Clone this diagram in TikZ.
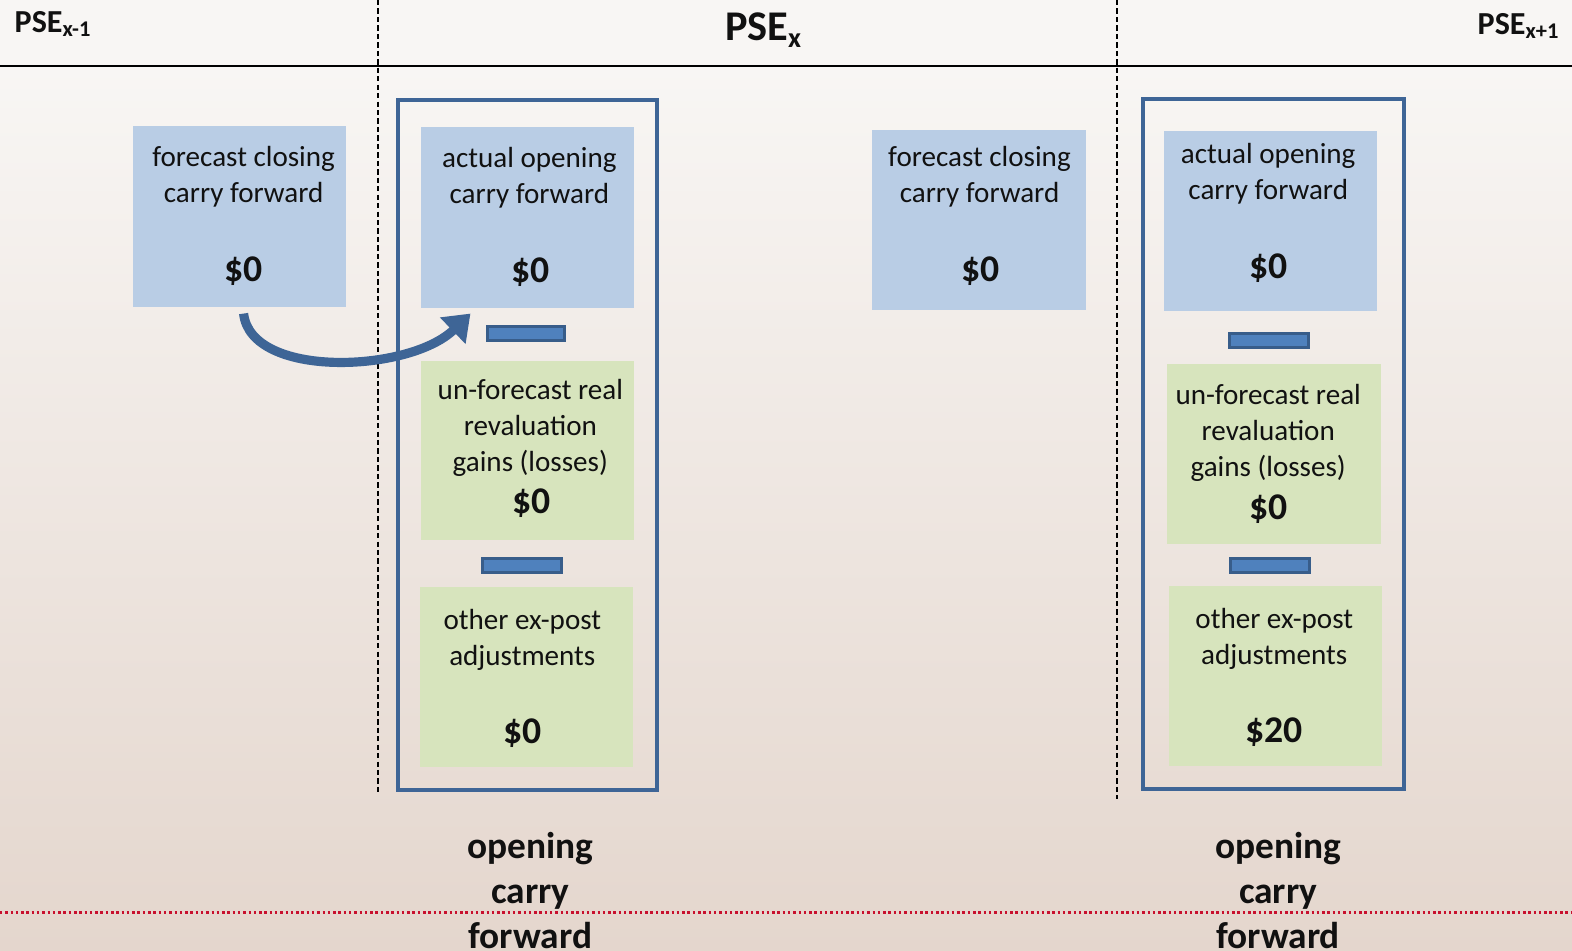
\documentclass[tikz,border=0pt]{standalone}
\usepackage{fontspec}
\setmainfont{Carlito}
\usetikzlibrary{arrows.meta}
\definecolor{bgtop}{HTML}{F8F6F4}
\definecolor{bgbot}{HTML}{E4D6CD}
\definecolor{boxblue}{HTML}{B9CDE5}
\definecolor{boxgreen}{HTML}{D7E4BD}
\definecolor{frameblue}{HTML}{3E6596}
\definecolor{barfill}{HTML}{4F81BD}
\definecolor{bardraw}{HTML}{385D8A}
\definecolor{redline}{HTML}{C8102E}
\definecolor{txt}{HTML}{111111}
\newcommand\boxtxt{\fontsize{8.25}{10.25}\selectfont}
\newcommand\amttxt{\fontsize{10.7}{12}\selectfont\bfseries}
\newcommand\bottxt{\fontsize{10.6}{12.8}\selectfont\bfseries}
\tikzset{
  bluebox/.style={fill=boxblue, draw=none, minimum width=2.12cm, minimum height=1.8cm, inner sep=0pt},
  greenbox/.style={fill=boxgreen, draw=none, minimum width=2.12cm, minimum height=1.79cm, inner sep=0pt},
  framebox/.style={draw=frameblue, line width=1.15pt, fill=none, minimum height=6.88cm, inner sep=0pt},
  minusbar/.style={fill=barfill, draw=bardraw, line width=0.9pt, minimum width=0.77cm, minimum height=0.14cm, inner sep=0pt},
  lbl/.style={text=txt, align=center, inner sep=0pt, font=\boxtxt},
  amt/.style={text=txt, inner sep=0pt, font=\amttxt},
  bot/.style={text=txt, align=center, inner sep=0pt, font=\bottxt},
  divider/.style={black, line width=0.7pt, dash pattern=on 1.5pt off 0.9pt},
  arc/.style={draw=frameblue, line width=2.6pt, -{Triangle[length=7pt, width=10pt]}}
}
\begin{document}
\begin{tikzpicture}[x=0.01cm, y=-0.01cm]
\useasboundingbox (0,0) rectangle (1568,948);
\clip (0,0) rectangle (1568,948);
% background
\fill[bgtop] (0,0) rectangle (1568,66);
\shade[top color=bgtop, bottom color=bgbot] (0,66) rectangle (1568,948);
% header line
\coordinate (hl) at (0,66);
\coordinate (hr) at (1568,66);
\draw[black, line width=0.6pt] (hl) -- (hr);
% dividers
\coordinate (d1t) at (377,0);
\coordinate (d1b) at (377,790);
\coordinate (d2t) at (1114,0);
\coordinate (d2b) at (1114,797);
\draw[divider] (d1t) -- (d1b);
\draw[divider] (d2t) -- (d2b);
% red dotted line
\coordinate (rl) at (0,910);
\coordinate (rr) at (1568,910);
\draw[redline, line width=0.75pt, dash pattern=on 0.7pt off 0.8pt] (rl) -- (rr);
% headers
\node[anchor=west, text=txt, inner sep=0pt, font=\fontsize{9.1}{11}\selectfont\bfseries] (h1) at (14,24) {PSE\textsubscript{x-1}};
\node[text=txt, inner sep=0pt, font=\fontsize{12}{14}\selectfont\bfseries] (h2) at (762,30) {PSE\textsubscript{x}};
\node[anchor=east, text=txt, inner sep=0pt, font=\fontsize{9.1}{11}\selectfont\bfseries] (h3) at (1557,26) {PSE\textsubscript{x+1}};
% frames
\node[framebox, minimum width=2.58cm] (fr1) at (526,444) {};
\node[framebox, minimum width=2.60cm] (fr2) at (1270,443) {};
% boxes
\node[bluebox] (fc1) at (239,216) {};
\node[bluebox] (ao1) at (526,217) {};
\node[greenbox] (ur1) at (526,449.5) {};
\node[greenbox] (ep1) at (525,675.5) {};
\node[bluebox, minimum width=2.13cm] (fc2) at (976.5,219.5) {};
\node[bluebox] (ao2) at (1267,220.5) {};
\node[greenbox, minimum width=2.13cm] (ur2) at (1270.5,453) {};
\node[greenbox] (ep2) at (1272,674) {};
% minus bars
\node[minusbar] (m1) at (524.5,333) {};
\node[minusbar, minimum width=0.79cm] (m2) at (520.5,564) {};
\node[minusbar, minimum width=0.79cm] (m3) at (1265.5,340) {};
\node[minusbar, minimum width=0.79cm] (m4) at (1266.5,564) {};
% texts
\node[lbl] (t1) at (243,176) {forecast closing\\carry forward};
\node[amt] (a1) at (243,270) {\$0};
\node[lbl] (t2) at (528,177) {actual opening\\carry forward};
\node[amt] (a2) at (529,271) {\$0};
\node[lbl] (t3) at (529,427) {un-forecast real\\revaluation\\gains (losses)};
\node[amt] (a3) at (530,502) {\$0};
\node[lbl] (t4) at (521,638) {other ex-post\\adjustments};
\node[amt] (a4) at (521,731) {\$0};
\node[lbl] (t5) at (977,176) {forecast closing\\carry forward};
\node[amt] (a5) at (978,270) {\$0};
\node[lbl] (t6) at (1265,173.5) {actual opening\\carry forward};
\node[amt] (a6) at (1265,267) {\$0};
\node[lbl] (t7) at (1265,432) {un-forecast real\\revaluation\\gains (losses)};
\node[amt] (a7) at (1265,508) {\$0};
\node[lbl] (t8) at (1271,637) {other ex-post\\adjustments};
\node[amt] (a8) at (1271,730) {\$20};
% bottom labels
\node[bot] (b1) at (529,888) {opening\\carry\\forward};
\node[bot] (b2) at (1275,888) {opening\\carry\\forward};
% arrow
\coordinate (as) at ([xshift=0.04cm, yshift=-0.06cm]fc1.south);
\coordinate (ae) at ([xshift=0.50cm, yshift=-0.05cm]ao1.south west);
\draw[arc] (as) .. controls (250,378) and (408,372) .. (ae);
\end{tikzpicture}
\end{document}
